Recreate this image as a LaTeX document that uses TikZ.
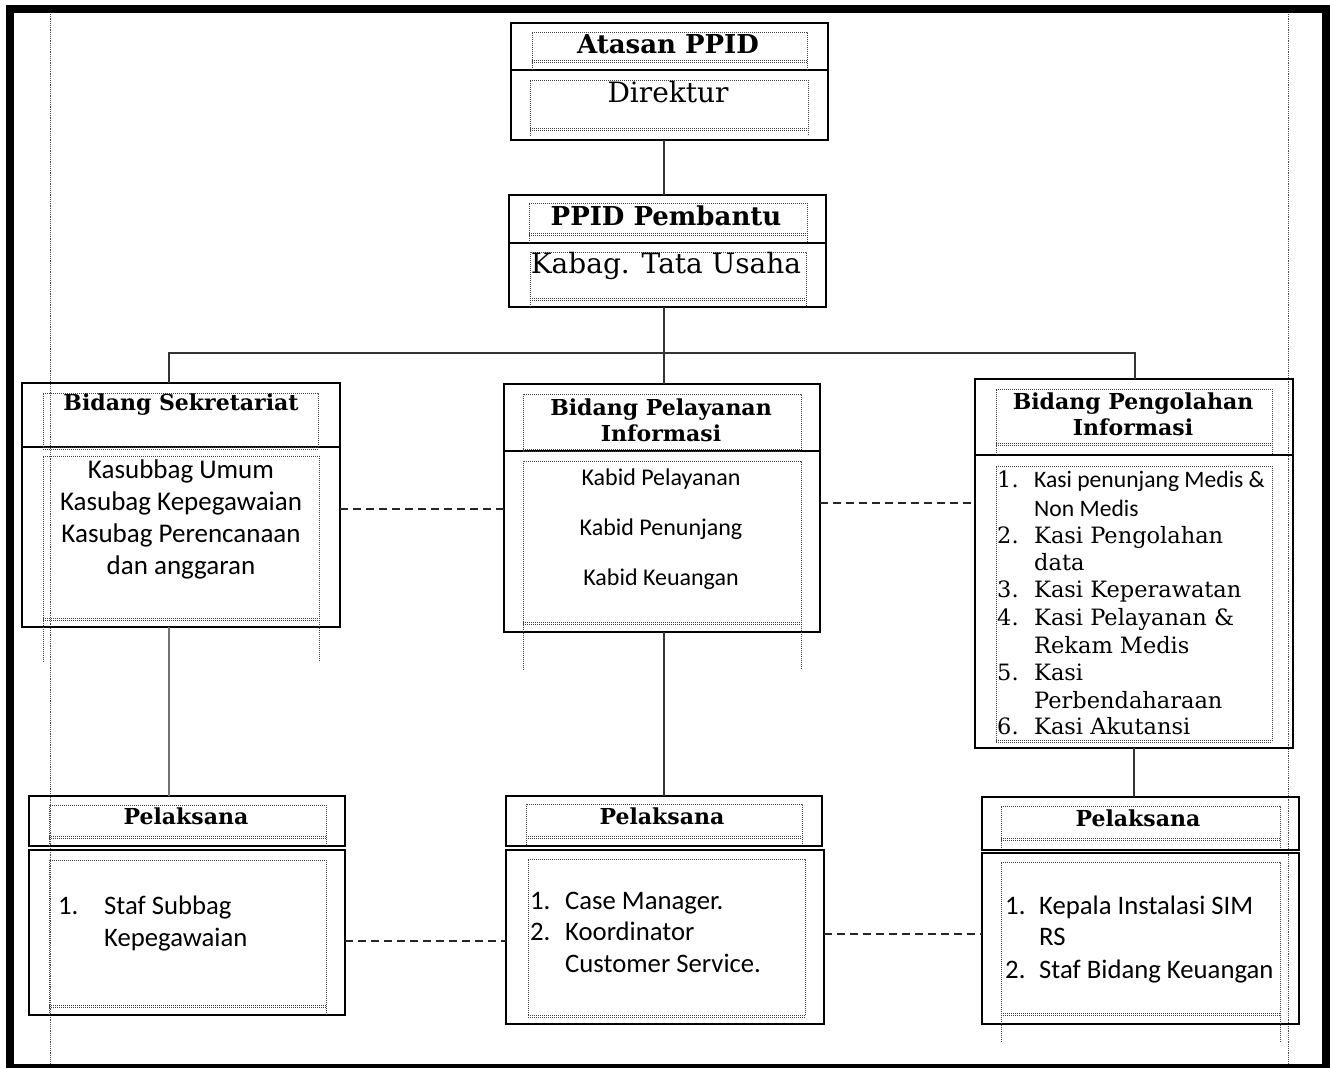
\documentclass[tikz,border=0pt]{standalone}
\usepackage{fontspec}
\setmainfont{DejaVu Serif}
\newfontfamily\calibri{Carlito}

\tikzset{
  box/.style={draw, line width=1.8pt, inner sep=0pt, outer sep=0pt, anchor=north west},
  txframe/.style={black!75, line width=0.9pt, dash pattern=on 1pt off 1pt},
  margin/.style={black!70, line width=1pt, dash pattern=on 1.2pt off 1pt},
  link/.style={black!80, line width=1.8pt},
  dotlink/.style={black!85, line width=1.6pt, dash pattern=on 8pt off 5pt},
  head/.style={font=\bfseries\fontsize{22}{26}\selectfont, align=center, inner sep=0pt},
  tophead/.style={font=\bfseries\fontsize{26}{30}\selectfont, inner sep=0pt},
  serif/.style={font=\fontsize{22.5}{27}\selectfont, inner sep=0pt, anchor=west,
    text height=18pt, text depth=2pt},
  sans/.style={font=\calibri\fontsize{26.7}{32}\selectfont, inner sep=0pt, anchor=west,
    text height=20pt, text depth=3pt},
}
% dotted text box frame: x1 y1 x2 y2 yend
\newcommand\txbox[5]{%
  \draw[txframe] (#1,#5) -- (#1,#2) -- (#3,#2) -- (#3,#5);
  \draw[txframe] (#1,#4) -- (#3,#4) (#1,#4+2) -- (#3,#4+2);}

\begin{document}
\begin{tikzpicture}[x=1pt,y=-1pt]
  \useasboundingbox (0,0) rectangle (1330,1068);
  \fill[black] (6,5) rectangle (1330,1068);
  \fill[white] (14,13) rectangle (1322,1064);
  \draw[margin] (50,14) -- (50,1064);
  \draw[margin] (1288,14) -- (1288,1064);

  % top
  \node[box, minimum width=317pt, minimum height=47pt] (atasanH) at (511,23) {};
  \node[box, minimum width=317pt, minimum height=70pt] (atasanB) at (511,70) {};
  \txbox{532}{32}{807}{60}{70}
  \txbox{530}{80}{808}{128}{136}
  \node[tophead] (atasanT) at (668,44) {Atasan PPID};
  \node[font=\fontsize{28}{32}\selectfont, inner sep=0pt] (direktur) at (668,92) {Direktur};

  \node[box, minimum width=317pt, minimum height=48pt] (ppidH) at (509,195) {};
  \node[box, minimum width=317pt, minimum height=64pt] (ppidB) at (509,243) {};
  \txbox{529}{203}{807}{233}{243}
  \txbox{530}{252}{806}{298}{307}
  \node[tophead] (ppidT) at (666,216) {PPID Pembantu};
  \node[font=\fontsize{28}{32}\selectfont, inner sep=0pt] (kabag) at (666,266) {Kabag. Tata Usaha};

  % bidang
  \node[box, minimum width=318pt, minimum height=64pt] (sekH) at (22,383) {};
  \node[box, minimum width=318pt, minimum height=180pt] (sekB) at (22,447) {};
  \txbox{43}{393}{318}{447}{447}
  \txbox{43}{456}{319}{618}{662}
  \node[head] (sekT) at (181,405) {Bidang Sekretariat};
  \node[anchor=center, align=center, inner sep=0pt, font=\calibri\fontsize{27}{32}\selectfont] (sekL) at (181,519)
    {Kasubbag Umum\\Kasubag Kepegawaian\\Kasubag Perencanaan\\dan anggaran};

  \node[box, minimum width=316pt, minimum height=67pt] (pelH) at (504,384) {};
  \node[box, minimum width=316pt, minimum height=181pt] (pelB) at (504,451) {};
  \txbox{523}{394}{801}{449}{451}
  \txbox{523}{461}{801}{622}{670}
  \node[head] (pelT) at (661,420) {Bidang Pelayanan\\Informasi};
  \node[anchor=center, align=center, inner sep=0pt, font=\calibri\fontsize{24}{50}\selectfont] (pelL) at (661,529)
    {Kabid Pelayanan\\Kabid Penunjang\\Kabid Keuangan};

  \node[box, minimum width=318pt, minimum height=76pt] (pengH) at (975,379) {};
  \node[box, minimum width=318pt, minimum height=293pt] (pengB) at (975,455) {};
  \txbox{996}{389}{1272}{443}{455}
  \txbox{996}{466}{1272}{740}{742}
  \node[head] (pengT) at (1133,414) {Bidang Pengolahan\\Informasi};
  \foreach \y/\n in {479/1., 535/2., 589/3., 617/4., 672/5., 726/6.}
    \node[serif] at (997,\y) {\n};
  \node[sans, font=\calibri\fontsize{23.6}{26}\selectfont] (peng1) at (1034,479) {Kasi penunjang Medis \&};
  \node[sans, font=\calibri\fontsize{23.6}{26}\selectfont] (peng1b) at (1034,508) {Non Medis};
  \foreach \y/\t in {535/Kasi Pengolahan, 562/data, 589/Kasi Keperawatan, 617/Kasi Pelayanan \&,
      645/Rekam Medis, 672/Kasi, 700/Perbendaharaan, 726/Kasi Akutansi}
    \node[serif] at (1034,\y) {\t};

  % pelaksana
  \node[box, minimum width=316pt, minimum height=50pt] (p1H) at (29,796) {};
  \node[box, minimum width=316pt, minimum height=165pt] (p1B) at (29,850) {};
  \txbox{49}{805}{326}{836}{846}
  \txbox{49}{860}{326}{1005}{1015}
  \node[head] (p1T) at (186,816) {Pelaksana};
  \node[sans] at (58,906) {1.};
  \node[sans] at (104,906) {Staf Subbag};
  \node[sans] at (104,938) {Kepegawaian};

  \node[box, minimum width=316pt, minimum height=50pt] (p2H) at (506,796) {};
  \node[box, minimum width=318pt, minimum height=174pt] (p2B) at (506,850) {};
  \txbox{526}{804}{802}{836}{845}
  \txbox{528}{859}{805}{1015}{1015}
  \node[head] (p2T) at (662,816) {Pelaksana};
  \node[sans] at (530,901) {1.};
  \node[sans] at (565,901) {Case Manager.};
  \node[sans] at (530,932) {2.};
  \node[sans] at (565,932) {Koordinator};
  \node[sans] at (565,964) {Customer Service.};

  \node[box, minimum width=317pt, minimum height=53pt] (p3H) at (982,797) {};
  \node[box, minimum width=317pt, minimum height=171pt] (p3B) at (982,853) {};
  \txbox{1001}{806}{1280}{838}{848}
  \txbox{1001}{862}{1280}{1013}{1042}
  \node[head] (p3T) at (1138,818) {Pelaksana};
  \node[sans] at (1005,906) {1.};
  \node[sans] at (1039,906) {Kepala Instalasi SIM};
  \node[sans] at (1039,937) {RS};
  \node[sans] at (1005,970) {2.};
  \node[sans] at (1039,970) {Staf Bidang Keuangan};

  % connectors
  \coordinate (trunk) at (664,353);
  \coordinate (busL) at (169,353);
  \coordinate (busR) at (1135,353);
  \draw[link] (atasanB.south -| trunk) -- (ppidH.north -| trunk);
  \draw[link] (ppidB.south -| trunk) -- (trunk) -- (pelH.north -| trunk);
  \draw[link] (sekH.north -| busL) -- (busL) -- (busR) -- (pengH.north -| busR);
  \draw[link, black!55] (sekB.south -| busL) -- (p1H.north -| busL);
  \draw[link] (pelB.south -| trunk) -- (p2H.north -| trunk);
  \draw[link] (pengB.south) -- (p3H.north -| pengB.south);

  \coordinate (d1) at (0,509);
  \coordinate (d2) at (0,503);
  \coordinate (d3) at (0,941);
  \coordinate (d4) at (0,934);
  \draw[dotlink] (sekB.east |- d1) -- (pelB.west |- d1);
  \draw[dotlink] (pelB.east |- d2) -- (pengB.west |- d2);
  \draw[dotlink] (p1B.east |- d3) -- (p2B.west |- d3);
  \draw[dotlink] (p2B.east |- d4) -- (p3B.west |- d4);
\end{tikzpicture}
\end{document}
